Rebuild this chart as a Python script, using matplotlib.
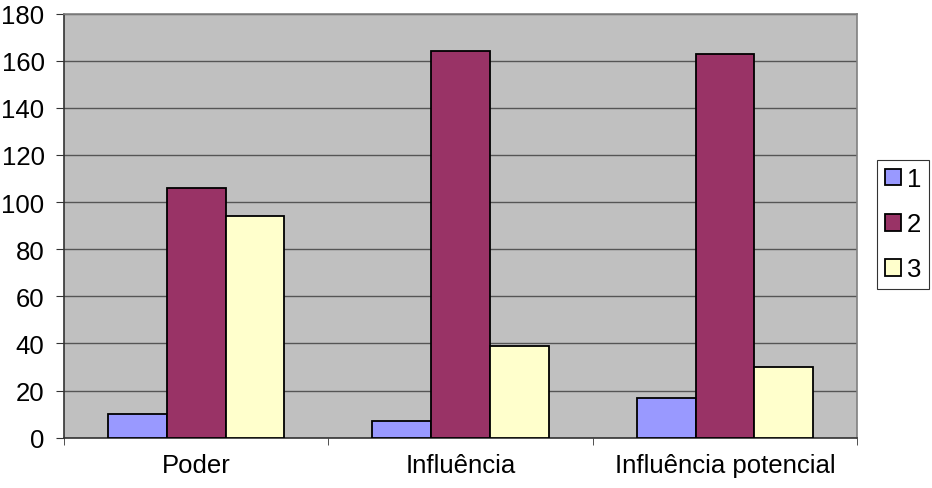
import numpy as np
import matplotlib
matplotlib.use("Agg")
import matplotlib.pyplot as plt

categories = ["Poder", "Influência", "Influência potencial"]
series_names = ["1", "2", "3"]
s1 = [10, 7, 17]
s2 = [106, 164, 163]
s3 = [94, 39, 30]
colors = ["#9999FF", "#993366", "#FFFFCC"]

plt.rcParams["font.family"] = ["Liberation Sans", "DejaVu Sans"]

fig = plt.figure(figsize=(9.32, 4.89), dpi=100)
ax = fig.add_axes([0.0687, 0.103, 0.851, 0.867])
ax.set_facecolor("#C0C0C0")

x = np.arange(len(categories))
w = 2 / 9
for i, (vals, name) in enumerate(zip([s1, s2, s3], series_names)):
    ax.bar(x + (i - 1) * w, vals, w, color=colors[i], edgecolor="black",
           linewidth=1.3, label=name, zorder=3)

ax.set_xlim(-0.5, 2.5)
ax.set_ylim(0, 180)
ax.set_yticks(range(0, 181, 20))
ax.yaxis.grid(True, color="#555555", linewidth=1.0, zorder=1)
ax.set_axisbelow(True)

ax.set_xticks(x)
ax.set_xticklabels(categories)
ax.set_xticks([-0.5, 0.5, 1.5, 2.5], minor=True)
ax.tick_params(axis="x", which="major", length=0, pad=11, labelsize=18.5)
ax.tick_params(axis="x", which="minor", length=5, direction="out", color="#333333")
ax.tick_params(axis="y", length=6, direction="out", labelsize=18.5, pad=8, color="#333333")

for side in ["left", "bottom"]:
    ax.spines[side].set_color("#333333")
    ax.spines[side].set_linewidth(1.2)
for side in ["top", "right"]:
    ax.spines[side].set_color("#808080")
    ax.spines[side].set_linewidth(1.2)

leg = ax.legend(loc="center left", bbox_to_anchor=(0.9415, 0.539),
                bbox_transform=fig.transFigure, fontsize=18.5, frameon=True,
                fancybox=False, edgecolor="black", handlelength=0.6,
                handleheight=0.6, handletextpad=0.25, borderpad=0.3,
                labelspacing=0.82, borderaxespad=0)
leg.get_frame().set_linewidth(0.8)

fig.savefig("out.png", dpi=100)
